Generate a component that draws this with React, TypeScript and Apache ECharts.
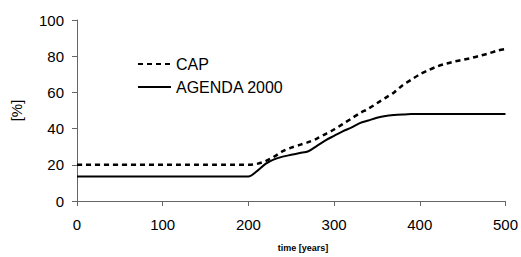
import React, { useEffect, useRef } from "react";
import * as echarts from "echarts";

const years = [0, 10, 20, 30, 40, 50, 60, 70, 80, 90, 100, 110, 120, 130, 140, 150, 160, 170, 180, 190, 200, 210, 220, 230, 240, 250, 260, 270, 280, 290, 300, 310, 320, 330, 340, 350, 360, 370, 380, 390, 400, 410, 420, 430, 440, 450, 460, 470, 480, 490, 500];
const capValues = [20, 20, 20, 20, 20, 20, 20, 20, 20, 20, 20, 20, 20, 20, 20, 20, 20, 20, 20, 20, 20, 20.5, 22, 24.5, 27.5, 29.5, 31, 32.5, 34.5, 37, 39.5, 42.5, 45.5, 48.5, 51, 54, 57, 60, 64, 67, 70, 72.3, 74.3, 75.8, 77, 78, 79, 80.2, 81.5, 83, 84];
const agendaValues = [13.5, 13.5, 13.5, 13.5, 13.5, 13.5, 13.5, 13.5, 13.5, 13.5, 13.5, 13.5, 13.5, 13.5, 13.5, 13.5, 13.5, 13.5, 13.5, 13.5, 13.5, 16.5, 20.5, 23, 24.5, 25.5, 26.5, 27.5, 30.5, 33.5, 36, 38.5, 40.5, 43, 44.5, 46, 47, 47.5, 47.8, 48, 48, 48, 48, 48, 48, 48, 48, 48, 48, 48, 48];
const seriesNames = ["CAP", "AGENDA 2000"];
const yTicks = { min: 0, max: 100, interval: 20 };
const xTicks = { min: 0, max: 500, interval: 100 };

export default function App() {
  const ref = useRef<HTMLDivElement>(null);
  useEffect(() => {
    if (!ref.current) return;
    const chart = echarts.init(ref.current, undefined, { renderer: "svg" });
    const font = "'Liberation Sans', Arial, sans-serif";
    chart.setOption({
      animation: false,
      backgroundColor: "#ffffff",
      textStyle: { fontFamily: font },
      grid: { left: 77, right: 13, top: 20, bottom: 56 },
      legend: {
        orient: "vertical",
        left: 137,
        top: 56,
        padding: 0,
        itemWidth: 33,
        itemHeight: 14,
        itemGap: 7,
        itemStyle: { opacity: 0 },
        textStyle: { fontSize: 16, color: "#000", fontFamily: font },
        data: seriesNames,
      },
      xAxis: {
        type: "value",
        min: xTicks.min,
        max: xTicks.max,
        interval: xTicks.interval,
        axisLine: { lineStyle: { color: "#666", width: 1 } },
        axisTick: { show: true, length: 5, lineStyle: { color: "#666" } },
        axisLabel: { fontSize: 15, color: "#000", margin: 16, fontFamily: font },
        splitLine: { show: false },
      },
      yAxis: {
        type: "value",
        min: yTicks.min,
        max: yTicks.max,
        interval: yTicks.interval,
        name: "[%]",
        nameLocation: "middle",
        nameGap: 53,
        nameRotate: 90,
        nameTextStyle: { fontSize: 15, color: "#000", fontFamily: font },
        axisLine: { show: true, lineStyle: { color: "#666", width: 1 } },
        axisTick: { show: true, length: 5, lineStyle: { color: "#666" } },
        axisLabel: { fontSize: 15, color: "#000", margin: 13, fontFamily: font },
        splitLine: { show: false },
      },
      graphic: [
        {
          type: "text",
          x: 303,
          y: 248,
          style: {
            text: "time [years]",
            fontSize: 9,
            fontWeight: "bold",
            fontFamily: font,
            fill: "#000",
            align: "center",
            verticalAlign: "middle",
          },
        },
      ],
      series: [
        {
          name: seriesNames[0],
          type: "line",
          data: years.map((y, i) => [y, capValues[i]]),
          symbol: "none",
          smooth: 0.3,
          lineStyle: { color: "#000", width: 2.5, type: [5, 4] },
          itemStyle: { color: "#000" },
        },
        {
          name: seriesNames[1],
          type: "line",
          data: years.map((y, i) => [y, agendaValues[i]]),
          symbol: "none",
          smooth: 0.3,
          lineStyle: { color: "#000", width: 2 },
          itemStyle: { color: "#000" },
        },
      ],
    });
    return () => chart.dispose();
  }, []);
  return (
    <div
      ref={ref}
      style={{ position: "fixed", left: 0, top: 0, width: 521, height: 257 }}
    />
  );
}
